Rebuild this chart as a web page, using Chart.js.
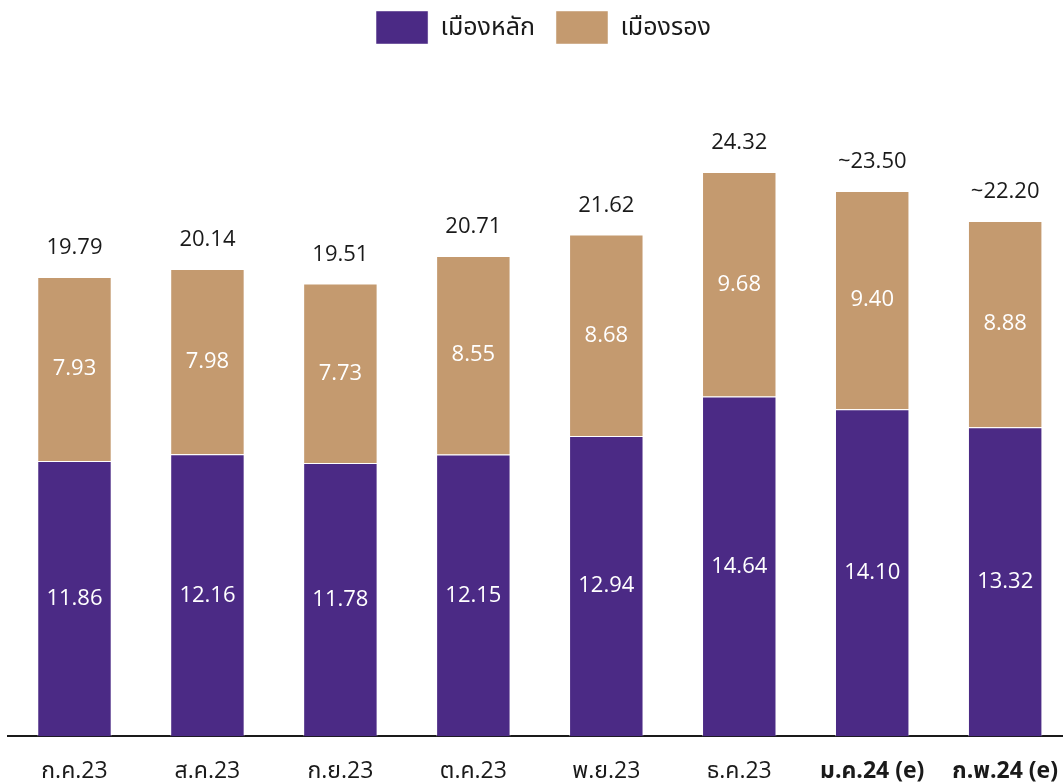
<!DOCTYPE html>
<html lang="th">
<head>
<meta charset="utf-8">
<title>เมืองหลัก / เมืองรอง</title>
<script src="https://cdn.jsdelivr.net/npm/chart.js@4.4.1/dist/chart.umd.min.js"></script>
<style>
  html, body { margin: 0; padding: 0; background: #ffffff; overflow: hidden; }
  #wrap { position: absolute; left: 0; top: -10px; width: 1079px; height: 816px; }
</style>
</head>
<body>
<div id="wrap"><canvas id="chart"></canvas></div>
<script>
// Monthly figures, split into primary and secondary cities
const months = ['ก.ค.23', 'ส.ค.23', 'ก.ย.23', 'ต.ค.23', 'พ.ย.23', 'ธ.ค.23', 'ม.ค.24 (e)', 'ก.พ.24 (e)'];
const primaryCities = [11.86, 12.16, 11.78, 12.15, 12.94, 14.64, 14.10, 13.32];
const secondaryCities = [7.93, 7.98, 7.73, 8.55, 8.68, 9.68, 9.40, 8.88];
const totals = [19.79, 20.14, 19.51, 20.71, 21.62, 24.32, 23.50, 22.20];
const estimated = [false, false, false, false, false, false, true, true];
const seriesNames = ['เมืองหลัก', 'เมืองรอง'];

const FONT = "'Open Sans', 'Noto Sans', 'Noto Sans Thai', sans-serif";
const PURPLE = '#4b2a85';
const TAN = '#c49a6f';

// Draws the segment values inside the bars and the totals above them
const valueLabels = {
  id: 'valueLabels',
  afterDatasetsDraw(chart) {
    const ctx = chart.ctx;
    ctx.save();
    ctx.textAlign = 'center';
    ctx.textBaseline = 'middle';
    ctx.font = `22px ${FONT}`;
    chart.data.datasets.forEach((ds, di) => {
      const meta = chart.getDatasetMeta(di);
      meta.data.forEach((bar, i) => {
        const mid = (bar.y + bar.base) / 2;
        ctx.fillStyle = '#ffffff';
        ctx.fillText(ds.data[i].toFixed(2), bar.x, mid);
      });
    });
    const top = chart.getDatasetMeta(chart.data.datasets.length - 1);
    top.data.forEach((bar, i) => {
      ctx.fillStyle = '#1a1a1a';
      const txt = (estimated[i] ? '~' : '') + totals[i].toFixed(2);
      ctx.fillText(txt, bar.x, bar.y - 29);
    });
    ctx.restore();
  }
};

new Chart(document.getElementById('chart'), {
  type: 'bar',
  data: {
    labels: months,
    datasets: [
      {
        label: seriesNames[0],
        data: primaryCities,
        backgroundColor: PURPLE,
        borderColor: 'rgba(255,255,255,0.45)',
        borderWidth: 1,
        categoryPercentage: 1,
        barPercentage: 0.56
      },
      {
        label: seriesNames[1],
        data: secondaryCities,
        backgroundColor: TAN,
        borderColor: 'rgba(255,255,255,0.45)',
        borderWidth: 1,
        categoryPercentage: 1,
        barPercentage: 0.56
      }
    ]
  },
  options: {
    responsive: true,
    maintainAspectRatio: false,
    animation: false,
    layout: { padding: { left: 8, right: 0, top: 0, bottom: 0 } },
    plugins: {
      legend: {
        position: 'top',
        align: 'center',
        labels: {
          boxWidth: 52,
          boxHeight: 33,
          padding: 21,
          color: '#1a1a1a',
          font: { family: FONT, size: 25 }
        }
      },
      tooltip: { enabled: false }
    },
    scales: {
      x: {
        stacked: true,
        grid: { display: false, drawTicks: false },
        border: { display: true, color: '#1a1a1a', width: 2 },
        ticks: {
          color: '#1a1a1a',
          padding: 21,
          font: (c) => ({ family: FONT, size: 23, weight: c.index >= 6 ? 'bold' : 'normal' })
        }
      },
      y: {
        stacked: true,
        display: false,
        min: 0,
        max: 29.4
      }
    }
  },
  plugins: [valueLabels]
});
</script>
</body>
</html>
